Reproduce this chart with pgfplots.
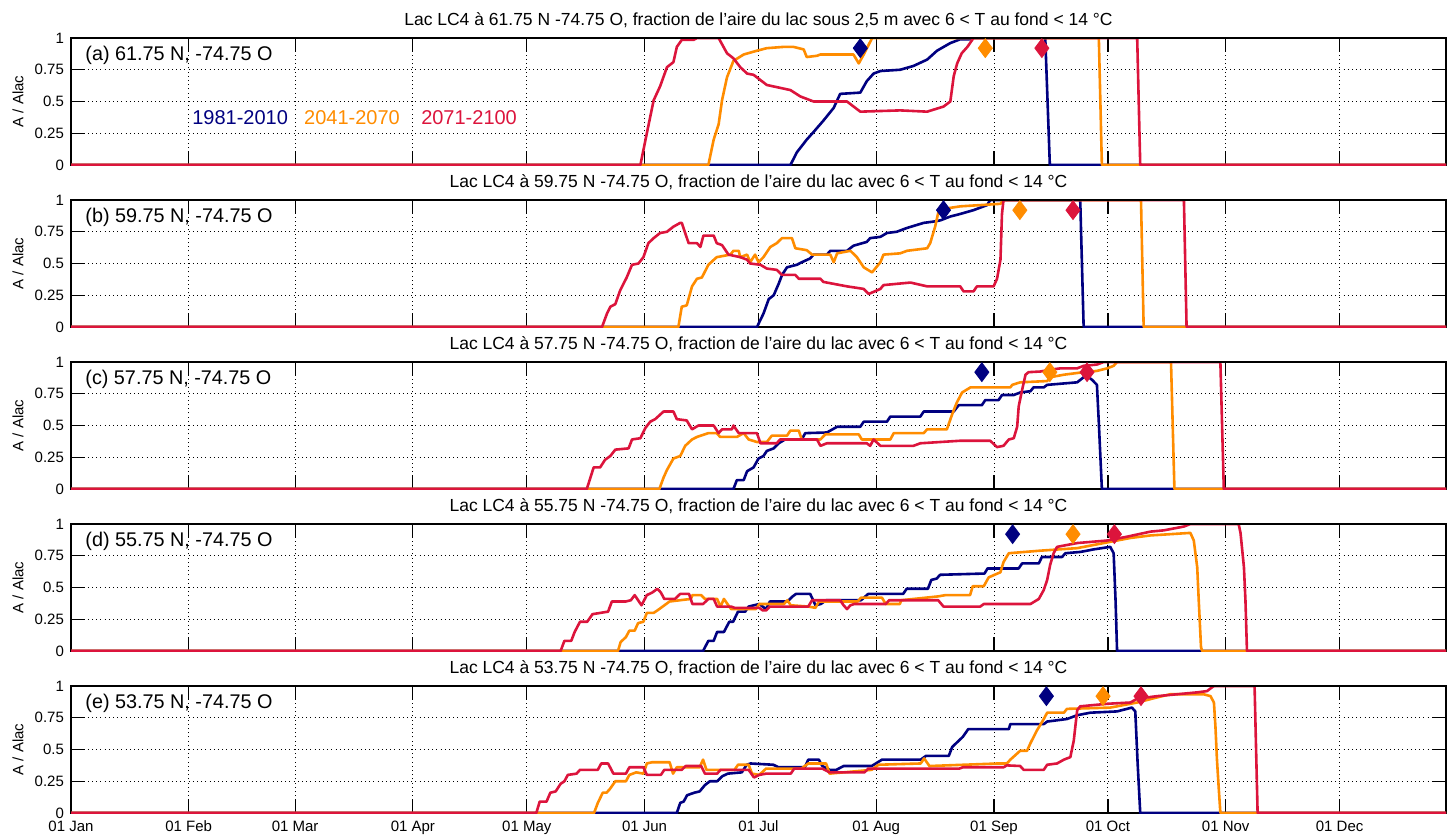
\documentclass[border=0pt]{standalone}
\usepackage{fontspec}
\setmainfont{Liberation Sans}
\usepackage{pgfplots}
\pgfplotsset{compat=1.18}

\definecolor{cnavy}{RGB}{0,0,128}
\definecolor{corange}{RGB}{255,140,0}
\definecolor{ccrimson}{RGB}{220,20,60}

\pgfplotsset{
  lacpanel/.style={
    scale only axis, width=687.5pt, height=63.5pt,
    anchor=south west,
    xmin=0, xmax=362, ymin=0, ymax=1,
    xtick={0,31,59,90,120,151,181,212,243,273,304,334},
    xticklabels={},
    ytick={0,0.25,0.5,0.75,1},
    yticklabels={0,0.25,0.5,0.75,1},
    tick align=inside, major tick length=7pt,
    grid=major,
    grid style={black, line width=0.5pt, dash pattern=on 0.5pt off 1.6pt},
    axis line style={line width=0.8pt},
    every tick/.style={black, line width=0.6pt},
    tick label style={font=\fontsize{7.5}{9}\selectfont},
    ylabel={A / Alac},
    ylabel style={font=\fontsize{7.5}{9}\selectfont,
      at={(axis description cs:-0.0385,0.5)}, anchor=center},
    title style={font=\fontsize{8.75}{10}\selectfont, yshift=-4.5pt},
  },
  cb/.style={cnavy, line width=1.3pt, no markers, line join=round},
  co/.style={corange, line width=1.3pt, no markers, line join=round},
  cr/.style={ccrimson, line width=1.3pt, no markers, line join=round},
  dm/.style={only marks, mark=diamond*, mark size=4.7pt},
}
\newcommand{\plab}[1]{\node[anchor=west, inner sep=0pt, font=\fontsize{9.9}{12}\selectfont] at (rel axis cs:0.0102,0.86) {#1};}
% top border drawn again over the curves (they run along y = 1 there)
\newcommand{\topfix}{\draw[black, line width=1.3pt] (rel axis cs:0,1) -- (rel axis cs:1,1);}

\begin{document}
\begin{tikzpicture}
\path[use as bounding box] (0,0) rectangle (723.5pt,-417.5pt);

% (a)
\begin{axis}[lacpanel, at={(35.5pt,-82.5pt)},
  title={Lac LC4 à 61.75 N -74.75 O, fraction de l'aire du lac sous 2,5 m avec 6 < T au fond < 14 °C}]
\addplot[cb] coordinates {(0,0) (189.4,0) (191.1,0.10) (193.7,0.20) (195.5,0.26) (198.1,0.35) (200.8,0.45) (202.5,0.56) (207.8,0.57) (209.5,0.66) (211.3,0.72) (213.1,0.74) (218.3,0.75) (221.8,0.78) (225.4,0.83) (228.0,0.90) (231.5,0.96) (234.1,0.99) (236.5,0.99) (237.5,1) (256.5,1) (257.7,0) (362,0)};
\addplot[co] coordinates {(0,0) (167.8,0) (169.2,0.20) (170.5,0.32) (171.4,0.51) (172.7,0.69) (174.4,0.82) (177.1,0.87) (180.6,0.90) (183.2,0.92) (187.6,0.93) (190.2,0.93) (192.9,0.91) (193.7,0.85) (196.4,0.86) (197.3,0.87) (206.0,0.87) (207.4,0.80) (208.7,0.87) (210.4,0.97) (210.9,1) (270.6,1) (271.4,0) (362,0)};
\addplot[cr] coordinates {(0,0) (149.9,0) (151.6,0.25) (153.4,0.51) (155.1,0.62) (156.9,0.77) (158.6,0.81) (159.5,0.93) (160.8,0.985) (163.9,0.985) (164.8,1) (170.5,1) (172.7,0.88) (174.4,0.84) (176.2,0.77) (178.0,0.72) (179.7,0.71) (183.2,0.63) (189.4,0.59) (192.0,0.54) (195.5,0.50) (204.3,0.50) (207.8,0.42) (218.3,0.43) (225.4,0.42) (229.7,0.46) (231.5,0.50) (232.4,0.70) (233.3,0.80) (234.5,0.88) (236.0,0.93) (237.6,1) (280.7,1) (281.5,0) (362,0)};
\addplot[dm, cnavy] coordinates {(207.8,0.92)};
\addplot[dm, corange] coordinates {(240.7,0.92)};
\addplot[dm, ccrimson] coordinates {(255.6,0.92)};
\topfix
\plab{(a) 61.75 N, -74.75 O}
\node[font=\fontsize{10}{12}\selectfont, text=cnavy] at (rel axis cs:0.123,0.37) {1981-2010};
\node[font=\fontsize{10}{12}\selectfont, text=corange] at (rel axis cs:0.2044,0.37) {2041-2070};
\node[font=\fontsize{10}{12}\selectfont, text=ccrimson] at (rel axis cs:0.2895,0.37) {2071-2100};
\end{axis}

% (b)
\begin{axis}[lacpanel, at={(35.5pt,-163.5pt)},
  title={Lac LC4 à 59.75 N -74.75 O, fraction de l'aire du lac avec 6 < T au fond < 14 °C}]
\addplot[cb] coordinates {(0,0) (180.6,0) (182.3,0.105) (183.7,0.22) (185.0,0.25) (186.3,0.34) (187.2,0.41) (188.5,0.47) (191.1,0.49) (192.4,0.51) (194.6,0.54) (195.5,0.57) (199.0,0.57) (199.9,0.60) (204.3,0.60) (206.0,0.64) (209.5,0.67) (210.4,0.70) (213.1,0.71) (214.8,0.74) (217.4,0.75) (220.1,0.78) (224.5,0.82) (227.1,0.83) (228.9,0.84) (231.5,0.87) (234.1,0.89) (237.6,0.92) (241.2,0.96) (242.0,1) (265.7,1) (266.6,0) (362,0)};
\addplot[co] coordinates {(0,0) (159.9,0) (160.8,0.16) (162.1,0.17) (163.5,0.32) (164.8,0.38) (166.1,0.39) (167.8,0.49) (170.0,0.55) (173.6,0.57) (174.4,0.60) (175.8,0.60) (176.2,0.55) (178.0,0.57) (178.8,0.51) (180.1,0.57) (181.0,0.51) (182.3,0.55) (183.2,0.59) (184.1,0.63) (185.8,0.66) (187.2,0.70) (189.8,0.70) (190.7,0.62) (193.7,0.605) (195.1,0.57) (199.9,0.57) (200.8,0.51) (201.7,0.58) (205.2,0.60) (206.9,0.55) (208.7,0.47) (210.9,0.43) (213.1,0.51) (213.9,0.57) (218.3,0.58) (220.1,0.60) (225.4,0.62) (226.2,0.66) (227.5,0.79) (228.4,0.91) (229.7,0.93) (234.1,0.95) (239.4,0.96) (244.7,0.97) (245.5,1) (281.7,1) (282.4,0) (362,0)};
\addplot[cr] coordinates {(0,0) (139.8,0) (141.1,0.105) (142.0,0.16) (143.3,0.18) (144.6,0.29) (146.3,0.39) (147.7,0.49) (149.4,0.50) (150.7,0.55) (152.0,0.66) (153.4,0.70) (155.1,0.74) (156.9,0.75) (158.6,0.79) (160.4,0.82) (160.8,0.82) (162.6,0.66) (164.8,0.66) (165.7,0.63) (166.5,0.72) (169.2,0.72) (170.0,0.66) (171.4,0.645) (173.1,0.57) (176.2,0.55) (178.0,0.53) (178.8,0.50) (181.5,0.49) (183.2,0.46) (185.8,0.45) (187.2,0.41) (190.7,0.41) (191.6,0.38) (197.3,0.38) (198.1,0.355) (204.3,0.32) (208.7,0.30) (210.0,0.26) (213.1,0.30) (213.9,0.33) (221.0,0.35) (225.4,0.32) (234.1,0.32) (235.0,0.28) (237.6,0.28) (238.5,0.32) (242.9,0.32) (243.8,0.38) (244.7,0.53) (245.1,0.89) (245.5,1) (293.0,1) (293.7,0) (362,0)};
\addplot[dm, cnavy] coordinates {(229.7,0.92)};
\addplot[dm, corange] coordinates {(249.8,0.92)};
\addplot[dm, ccrimson] coordinates {(263.8,0.92)};
\topfix
\plab{(b) 59.75 N, -74.75 O}
\end{axis}

% (c)
\begin{axis}[lacpanel, at={(35.5pt,-244.5pt)},
  title={Lac LC4 à 57.75 N -74.75 O, fraction de l'aire du lac avec 6 < T au fond < 14 °C}]
\addplot[cb] coordinates {(0,0) (174.4,0) (175.3,0.07) (177.1,0.07) (178.0,0.14) (179.7,0.17) (181.0,0.24) (182.3,0.26) (183.2,0.30) (185.0,0.32) (186.3,0.36) (188.0,0.39) (192.4,0.39) (193.3,0.44) (199.0,0.445) (201.7,0.49) (207.8,0.49) (208.7,0.53) (214.8,0.53) (215.7,0.57) (223.6,0.57) (224.5,0.61) (232.4,0.61) (233.7,0.66) (239.8,0.66) (240.7,0.70) (244.2,0.70) (245.1,0.74) (248.2,0.74) (249.9,0.76) (252.6,0.77) (253.4,0.80) (256.1,0.80) (257.0,0.82) (264.9,0.84) (266.6,0.88) (267.5,0.89) (268.8,0.86) (270.1,0.82) (270.6,0.52) (271.0,0.26) (271.4,0) (362,0)};
\addplot[co] coordinates {(0,0) (154.9,0) (156.0,0.09) (156.9,0.15) (158.6,0.24) (160.4,0.26) (161.7,0.34) (163.5,0.39) (164.8,0.41) (167.8,0.44) (170.0,0.44) (170.9,0.41) (175.3,0.41) (177.1,0.44) (178.4,0.39) (180.6,0.37) (183.2,0.37) (184.5,0.42) (188.5,0.42) (189.4,0.46) (191.6,0.46) (192.4,0.39) (197.3,0.39) (198.6,0.43) (207.4,0.43) (208.2,0.39) (215.7,0.39) (216.6,0.44) (224.5,0.44) (225.4,0.47) (230.6,0.47) (232.0,0.59) (233.2,0.68) (234.6,0.76) (236.8,0.80) (247.3,0.80) (247.8,0.82) (249.9,0.84) (257.0,0.85) (257.8,0.88) (261.4,0.90) (266.6,0.92) (270.1,0.93) (272.8,0.95) (274.5,0.97) (275.4,1) (289.6,1) (290.5,0) (362,0)};
\addplot[cr] coordinates {(0,0) (135.8,0) (137.6,0.17) (139.3,0.17) (140.6,0.23) (142.0,0.26) (143.3,0.31) (146.8,0.32) (147.7,0.39) (149.9,0.40) (151.2,0.48) (152.5,0.53) (153.8,0.55) (156.0,0.61) (158.6,0.61) (159.5,0.55) (162.1,0.54) (163.5,0.47) (165.2,0.50) (169.2,0.50) (170.5,0.44) (171.4,0.47) (174.0,0.47) (174.4,0.50) (175.8,0.44) (180.6,0.44) (181.5,0.36) (185.8,0.36) (186.7,0.39) (196.4,0.39) (197.3,0.34) (199.0,0.36) (209.5,0.36) (210.4,0.34) (211.3,0.39) (213.1,0.34) (221.8,0.34) (223.6,0.36) (234.1,0.38) (242.0,0.38) (243.8,0.33) (245.5,0.34) (246.9,0.39) (248.2,0.40) (249.1,0.49) (249.5,0.65) (250.4,0.78) (251.3,0.90) (252.1,0.92) (255.2,0.925) (257.8,0.94) (260.5,0.95) (264.9,0.95) (266.6,0.97) (270.1,0.98) (271.9,1) (302.6,1) (303.5,0) (362,0)};
\addplot[dm, cnavy] coordinates {(239.8,0.92)};
\addplot[dm, corange] coordinates {(257.7,0.92)};
\addplot[dm, ccrimson] coordinates {(267.5,0.92)};
\topfix
\plab{(c) 57.75 N, -74.75 O}
\end{axis}

% (d)
\begin{axis}[lacpanel, at={(35.5pt,-325.5pt)},
  title={Lac LC4 à 55.75 N -74.75 O, fraction de l'aire du lac avec 6 < T au fond < 14 °C}]
\addplot[cb] coordinates {(0,0) (166.4,0) (167.8,0.08) (169.2,0.08) (170.1,0.15) (171.9,0.15) (173.3,0.23) (174.3,0.23) (175.6,0.31) (177.5,0.31) (178.4,0.35) (181.2,0.37) (183.0,0.33) (184.0,0.39) (188.6,0.39) (190.0,0.43) (190.9,0.45) (194.6,0.45) (196.0,0.36) (197.4,0.37) (198.8,0.40) (208.0,0.40) (209.9,0.45) (219.1,0.45) (220.0,0.49) (225.6,0.49) (226.5,0.56) (227.9,0.57) (228.8,0.60) (240.5,0.61) (241.3,0.65) (249.5,0.65) (250.4,0.69) (254.8,0.69) (255.6,0.74) (260.9,0.74) (261.8,0.77) (265.7,0.78) (267.5,0.79) (269.2,0.80) (273.6,0.82) (274.5,0.77) (275.0,0.40) (275.4,0) (362,0)};
\addplot[co] coordinates {(0,0) (144.0,0) (144.7,0.07) (146.1,0.11) (147.0,0.16) (148.4,0.16) (149.3,0.22) (150.7,0.23) (151.6,0.30) (153.4,0.30) (154.4,0.32) (157.6,0.39) (163.2,0.41) (163.6,0.44) (165.9,0.44) (166.9,0.41) (170.1,0.41) (171.0,0.35) (171.9,0.41) (173.3,0.35) (173.8,0.33) (180.3,0.33) (181.2,0.37) (187.7,0.37) (188.6,0.40) (189.5,0.36) (194.1,0.35) (196.0,0.34) (196.9,0.39) (207.1,0.39) (208.0,0.42) (213.5,0.42) (214.5,0.37) (218.2,0.37) (218.6,0.40) (228.3,0.43) (230.2,0.44) (236.7,0.44) (237.4,0.51) (240.3,0.51) (241.6,0.58) (244.7,0.62) (245.5,0.70) (246.9,0.77) (255.2,0.79) (264.9,0.81) (271.9,0.85) (278.9,0.89) (284.2,0.91) (294.7,0.93) (295.6,0.87) (296.5,0.66) (296.9,0.40) (297.5,0.03) (297.8,0) (362,0)};
\addplot[cr] coordinates {(0,0) (128.9,0) (129.9,0.08) (131.7,0.08) (132.6,0.15) (134.0,0.23) (135.9,0.23) (137.3,0.29) (141.4,0.31) (142.4,0.39) (146.1,0.39) (147.4,0.40) (148.4,0.44) (149.3,0.40) (150.2,0.36) (151.6,0.44) (153.0,0.46) (154.4,0.49) (155.3,0.46) (156.2,0.41) (159.0,0.41) (160.4,0.45) (162.7,0.45) (163.6,0.37) (166.4,0.37) (167.8,0.41) (169.2,0.41) (170.1,0.35) (173.8,0.35) (174.7,0.34) (181.2,0.34) (182.1,0.32) (183.0,0.32) (184.0,0.35) (194.1,0.35) (195.1,0.40) (202.5,0.40) (203.4,0.36) (204.3,0.33) (205.2,0.36) (206.2,0.37) (214.5,0.37) (215.4,0.40) (228.3,0.40) (229.7,0.35) (239.4,0.35) (240.3,0.37) (252.6,0.37) (254.8,0.41) (256.1,0.48) (257.0,0.56) (257.8,0.68) (258.7,0.77) (259.6,0.82) (264.9,0.85) (272.8,0.87) (278.0,0.90) (284.2,0.94) (287.7,0.95) (293.0,0.98) (294.7,1) (307.4,1) (307.9,0.93) (308.8,0.66) (309.2,0.40) (309.6,0) (362,0)};
\addplot[dm, cnavy] coordinates {(247.9,0.92)};
\addplot[dm, corange] coordinates {(263.8,0.92)};
\addplot[dm, ccrimson] coordinates {(274.7,0.92)};
\topfix
\plab{(d) 55.75 N, -74.75 O}
\end{axis}

% (e)
\begin{axis}[lacpanel, at={(35.5pt,-406.5pt)},
  title={Lac LC4 à 53.75 N -74.75 O, fraction de l'aire du lac avec 6 < T au fond < 14 °C},
  xticklabels={01 Jan,01 Feb,01 Mar,01 Apr,01 May,01 Jun,01 Jul,01 Aug,01 Sep,01 Oct,01 Nov,01 Dec},
  xticklabel style={yshift=-0.5pt}]
\addplot[cb] coordinates {(0,0) (159.5,0) (160.4,0.08) (161.3,0.09) (162.2,0.14) (164.1,0.16) (165.5,0.17) (166.9,0.22) (168.2,0.25) (170.1,0.25) (171.5,0.29) (172.9,0.31) (176.6,0.32) (177.9,0.38) (178.9,0.39) (184.9,0.38) (186.3,0.36) (193.2,0.36) (194.1,0.42) (196.9,0.42) (197.8,0.37) (199.7,0.34) (201.5,0.34) (203.4,0.37) (210.8,0.37) (213.5,0.42) (223.7,0.42) (225.1,0.45) (231.1,0.45) (232.0,0.52) (233.4,0.56) (234.8,0.60) (236.2,0.66) (246.9,0.66) (247.3,0.70) (256.1,0.70) (257.0,0.72) (262.2,0.74) (264.9,0.77) (268.4,0.79) (275.4,0.80) (279.3,0.83) (280.2,0.80) (280.8,0.40) (281.5,0) (362,0)};
\addplot[co] coordinates {(0,0) (137.7,0) (138.7,0.08) (140.0,0.16) (141.0,0.16) (141.9,0.19) (143.3,0.25) (146.1,0.25) (147.0,0.30) (148.8,0.32) (150.7,0.31) (151.6,0.39) (153.0,0.40) (157.6,0.40) (158.5,0.31) (159.5,0.36) (165.5,0.36) (166.4,0.42) (167.3,0.34) (174.7,0.34) (175.6,0.38) (178.4,0.38) (179.3,0.31) (181.2,0.30) (183.0,0.35) (192.3,0.35) (194.1,0.39) (198.8,0.39) (199.7,0.31) (210.8,0.34) (212.6,0.38) (223.7,0.39) (224.6,0.43) (226.0,0.37) (244.1,0.39) (246.4,0.39) (247.3,0.42) (249.9,0.49) (251.7,0.49) (252.6,0.55) (254.3,0.65) (256.1,0.74) (257.0,0.79) (261.4,0.79) (262.2,0.82) (273.6,0.83) (275.4,0.84) (280.7,0.87) (285.9,0.91) (289.4,0.935) (298.2,0.935) (300.0,0.92) (300.9,0.87) (301.3,0.68) (301.7,0.42) (302.2,0.18) (302.6,0) (362,0)};
\addplot[cr] coordinates {(0,0) (122.5,0) (123.4,0.09) (125.2,0.09) (126.2,0.16) (127.6,0.17) (128.9,0.23) (129.9,0.25) (130.8,0.30) (133.1,0.31) (134.0,0.34) (138.7,0.34) (139.6,0.39) (141.4,0.39) (142.8,0.31) (146.1,0.31) (147.0,0.36) (150.7,0.36) (151.6,0.30) (155.3,0.30) (156.2,0.34) (160.8,0.34) (161.8,0.37) (165.9,0.37) (166.9,0.31) (170.1,0.31) (171.0,0.34) (178.4,0.34) (179.8,0.28) (181.2,0.30) (183.0,0.31) (189.5,0.31) (190.4,0.35) (197.8,0.35) (199.7,0.32) (208.9,0.32) (209.9,0.35) (233.9,0.35) (234.8,0.36) (245.5,0.36) (246.4,0.375) (249.9,0.37) (250.8,0.34) (256.1,0.34) (257.0,0.38) (259.6,0.39) (261.4,0.42) (263.1,0.44) (264.0,0.57) (264.9,0.81) (265.7,0.84) (272.8,0.86) (278.9,0.87) (280.7,0.90) (285.9,0.92) (291.2,0.935) (296.5,0.95) (299.1,0.96) (300.4,0.99) (300.9,1) (311.6,1) (312.4,0) (362,0)};
\addplot[dm, cnavy] coordinates {(256.8,0.92)};
\addplot[dm, corange] coordinates {(271.7,0.92)};
\addplot[dm, ccrimson] coordinates {(281.7,0.92)};
\topfix
\plab{(e) 53.75 N, -74.75 O}
\end{axis}
\end{tikzpicture}
\end{document}
